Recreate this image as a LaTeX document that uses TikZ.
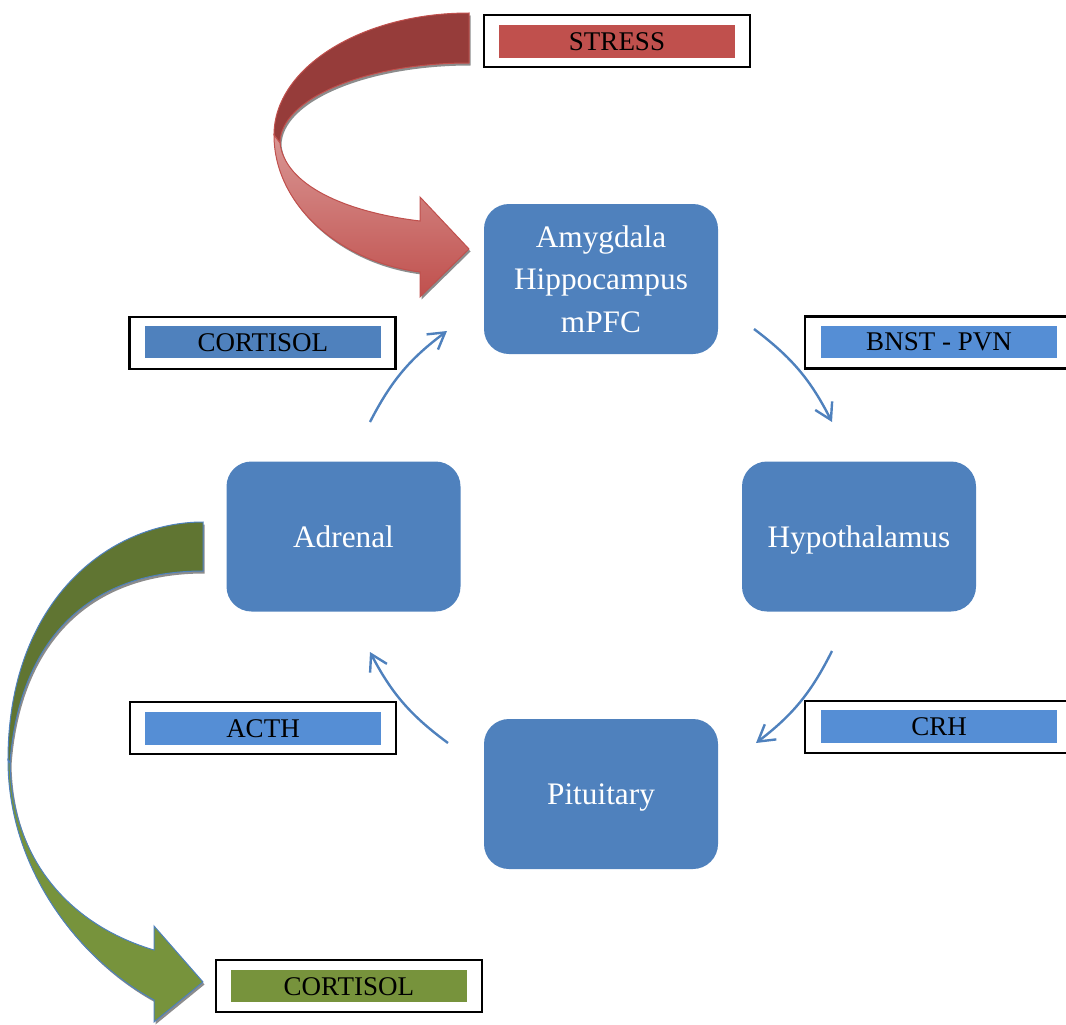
\documentclass[tikz,border=0pt]{standalone}
\usepackage{fontspec}
\setmainfont{Liberation Serif}
\usetikzlibrary{arrows.meta}
\definecolor{nodeblue}{HTML}{4F81BD}
\definecolor{lblblue}{HTML}{558ED5}
\definecolor{stressred}{HTML}{C0504D}
\definecolor{stressdark}{HTML}{963C3A}
\definecolor{stresslight}{HTML}{D99694}
\definecolor{cortgreen}{HTML}{77933C}
\definecolor{cortdark}{HTML}{607532}
\definecolor{shadowgray}{HTML}{8C8C8C}
\begin{document}
\begin{tikzpicture}[x=1pt,y=1pt,
  hpabox/.style={fill=nodeblue, rounded corners=25pt, minimum width=234pt, minimum height=150pt,
    text=white, font=\fontsize{31.3}{42.5}\selectfont, align=center, inner sep=0pt},
  onebox/.style={hpabox, text depth=0pt},
  frame/.style={draw=black, line width=2.3pt, minimum width=266pt, minimum height=52pt, inner sep=0pt},
  tag/.style={minimum width=236pt, minimum height=32.5pt, inner sep=0pt,
    font=\fontsize{27}{30}\selectfont, text=black},
  flow/.style={draw=nodeblue, line width=2.4pt, -{Straight Barb[length=16pt,width=19pt,line width=2.4pt]}}
]
\useasboundingbox (0,0) rectangle (1066,-1025);

% ---------- STRESS curved arrow ----------
\begin{scope}[shift={(1.5,-2.5)}]
  \fill[shadowgray] (469,-13) .. controls (361,-13) and (274,-68) .. (274,-135)
    .. controls (274,-205) and (340,-262) .. (420,-272) -- (420,-297) -- (469,-249)
    -- (420,-197) -- (420,-221) .. controls (345,-212) and (285,-185) .. (280,-143)
    .. controls (280,-99) and (365,-63) .. (469,-63) -- cycle;
\end{scope}
\fill[stressdark, draw=stressred, line width=1pt]
  (469,-13) .. controls (361,-13) and (274,-68) .. (274,-135)
  -- (280,-143) .. controls (280,-99) and (365,-63) .. (469,-63) -- cycle;
\shade[top color=stresslight, bottom color=stressred, draw=stressred, line width=1pt]
  (274,-135) .. controls (274,-205) and (340,-262) .. (420,-272) -- (420,-297) -- (469,-249)
  -- (420,-197) -- (420,-221) .. controls (345,-212) and (285,-185) .. (280,-143) -- cycle;

% ---------- CORTISOL green curved arrow ----------
\begin{scope}[shift={(1.5,-2.5)}]
  \fill[shadowgray] (203,-522) .. controls (110,-522) and (8,-600) .. (8,-760)
    .. controls (8,-870) and (80,-960) .. (154,-1000) -- (154,-1022) -- (203,-982)
    -- (154,-926) -- (154,-950) .. controls (70,-925) and (12,-860) .. (10,-763)
    .. controls (18,-650) and (80,-571) .. (203,-571) -- cycle;
\end{scope}
\fill[cortdark, draw=nodeblue, line width=1pt]
  (203,-522) .. controls (110,-522) and (8,-600) .. (8,-760)
  -- (10,-763) .. controls (18,-650) and (80,-571) .. (203,-571) -- cycle;
\fill[cortgreen, draw=nodeblue, line width=1pt]
  (8,-760) .. controls (8,-870) and (80,-960) .. (154,-1000) -- (154,-1022) -- (203,-982)
  -- (154,-926) -- (154,-950) .. controls (70,-925) and (12,-860) .. (10,-763) -- cycle;

% ---------- main boxes ----------
\node[hpabox] (amy) at (601,-279) {Amygdala\\Hippocampus\\mPFC};
\node[onebox] (hyp) at (859,-536.5) {Hypothalamus};
\node[onebox] (pit) at (601,-794) {Pituitary};
\node[onebox] (adr) at (343.5,-536.5) {Adrenal};

% ---------- labels ----------
\node[frame] (fstress) at (617,-40.8) {};
\node[tag, fill=stressred] (stress) at (617,-41.3) {\raisebox{-1.2pt}{STRESS}};

\node[frame] (fcort) at (262.5,-342.7) {};
\node[tag, fill=nodeblue] (cort) at (262.9,-342.2) {\raisebox{-1pt}{CORTISOL}};

\node[frame] (fbnst) at (938,-342.5) {};
\node[tag, fill=lblblue] (bnst) at (939,-342.2) {\raisebox{-1pt}{BNST - PVN}};

\node[frame] (fcrh) at (938,-726.7) {};
\node[tag, fill=lblblue] (crh) at (939,-726.3) {\raisebox{-1pt}{CRH}};

\node[frame] (facth) at (262.8,-727.8) {};
\node[tag, fill=lblblue] (acth) at (263,-728.5) {\raisebox{-1pt}{ACTH}};

\node[frame] (fcortg) at (349.2,-986.2) {};
\node[tag, fill=cortgreen] (cortg) at (348.9,-986.2) {\raisebox{-1pt}{CORTISOL}};

% ---------- cycle connectors ----------
\coordinate (adrout) at (370,-422);
\coordinate (amyin) at (447,-331);
\coordinate (amyout) at (754,-329);
\coordinate (hypin) at (832,-422);
\coordinate (hypout) at (832,-651);
\coordinate (pitin) at (756,-743);
\coordinate (pitout) at (448,-743);
\coordinate (adrin) at (370,-652);
\draw[flow] (adrout) to[bend left=13] (amyin);
\draw[flow] (amyout) to[bend left=13] (hypin);
\draw[flow] (hypout) to[bend left=13] (pitin);
\draw[flow] (pitout) to[bend left=13] (adrin);
\end{tikzpicture}
\end{document}
